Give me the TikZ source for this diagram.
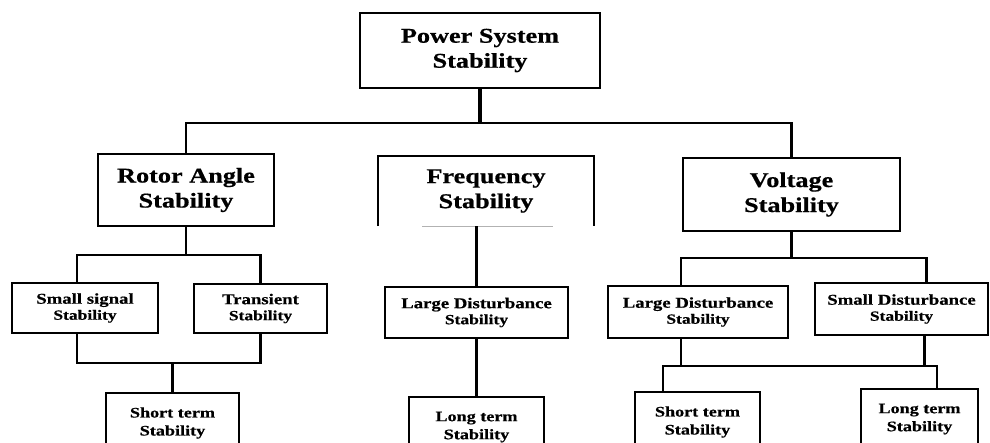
\documentclass[tikz,border=0pt]{standalone}
\usepackage{fontspec}
\newfontfamily\boxfont{Liberation Serif}[FakeStretch=1.25, FakeBold=0.6]
\usetikzlibrary{positioning}

\tikzset{
	box/.style={draw, line width=2.2pt, inner sep=0pt, outer sep=0pt, align=center},
	mainbox/.style={box, font=\boxfont\bfseries\fontsize{21}{25}\selectfont},
	subbox/.style={box, font=\boxfont\bfseries\fontsize{15}{16}\selectfont},
	leafbox/.style={box, font=\boxfont\bfseries\fontsize{14.5}{18}\selectfont},
	link/.style={line width=2.4pt},
}

\begin{document}
\begin{tikzpicture}
\useasboundingbox (0,0) rectangle (990pt,-442pt);
\clip (0,0) rectangle (990pt,-442pt);

\node[mainbox, minimum width=240pt, minimum height=75pt] (top) at (480pt,-50.5pt) {Power System\\Stability};

\node[mainbox, minimum width=176pt, minimum height=72pt, below=66pt of top, xshift=-294pt](rotor){Rotor Angle\\Stability};
\node[mainbox, draw=none, minimum width=216pt, minimum height=70pt, below=68pt of top, xshift=6pt](freq){Frequency\\Stability};
\node[mainbox, minimum width=217pt, minimum height=73pt, below=70pt of top, xshift=311.5pt](volt){Voltage\\Stability};

\node[subbox, minimum width=146pt, minimum height=50pt, below=57pt of rotor, xshift=-101pt](ss){Small signal\\\fontsize{14}{16}\selectfont Stability};
\node[subbox, minimum width=133pt, minimum height=49pt, below=58pt of rotor, xshift=74.5pt](tr){Transient\\\fontsize{14}{16}\selectfont Stability};
\node[leafbox, minimum width=133pt, minimum height=60pt, below=60pt of ss, xshift=87.5pt](stl){Short term\\Stability};

\node[subbox, minimum width=183pt, minimum height=51pt, below=61pt of freq, xshift=-9.5pt](ldm){Large Disturbance\\\fontsize{14}{16}\selectfont Stability};
\node[leafbox, minimum width=135pt, minimum height=60pt, below=59pt of ldm](ltm){Long term\\Stability};

\node[subbox, minimum width=180pt, minimum height=52pt, below=55pt of volt, xshift=-93.5pt](ldv){Large Disturbance\\\fontsize{14}{16}\selectfont Stability};
\node[subbox, minimum width=173pt, minimum height=52pt, below=52pt of volt, xshift=110pt](sdv){Small Disturbance\\\fontsize{14}{16}\selectfont Stability};
\node[leafbox, minimum width=125pt, minimum height=60pt, below=54pt of ldv, xshift=-0.5pt](stv){Short term\\Stability};
\node[leafbox, minimum width=117pt, minimum height=60pt, below=54pt of sdv, xshift=18pt](ltv){Long term\\Stability};

% open frame of the frequency box
\draw[line width=2.2pt] (freq.south west) -- (freq.north west) -- (freq.north east) -- (freq.south east);
\draw[gray!60, line width=0.8pt] ([xshift=44pt]freq.south west) -- ([xshift=-41pt]freq.south east);

% top level
\draw[link, line width=3.8pt] (top.south) -- ++(0,-35pt) coordinate (b1);
\draw[link] (rotor.north) |- (b1) -| (volt.north);

% rotor angle
\draw[link] (rotor.south) -- ++(0,-29pt) coordinate (b2);
\draw[link] ([xshift=-8pt]ss.north) |- (b2) -| (tr.north);
\draw[link] ([xshift=-8pt]ss.south) -- ++(0,-30pt) coordinate (b3) -| (tr.south);
\draw[link] (stl.north) -- (stl.north |- b3);

% frequency
\draw[link] (ldm.north |- freq.south) -- (ldm.north);
\draw[link] (ldm.south) -- (ltm.north);

% voltage
\draw[link] (volt.south) -- ++(0,-27pt) coordinate (b4);
\draw[link] ([xshift=-17pt]ldv.north) |- (b4) -| ([xshift=25pt]sdv.north);
\coordinate (b5) at ([yshift=-28pt]ldv.south);
\draw[link] ([xshift=-17pt]ldv.south) -- ([xshift=-17pt]ldv.south |- b5);
\draw[link] ([xshift=23pt]sdv.south) -- ([xshift=23pt]sdv.south |- b5);
\draw[link] ([xshift=-34.5pt]stv.north) |- ([xshift=17.5pt]ltv.north |- b5) -- ([xshift=17.5pt]ltv.north);

\end{tikzpicture}
\end{document}
